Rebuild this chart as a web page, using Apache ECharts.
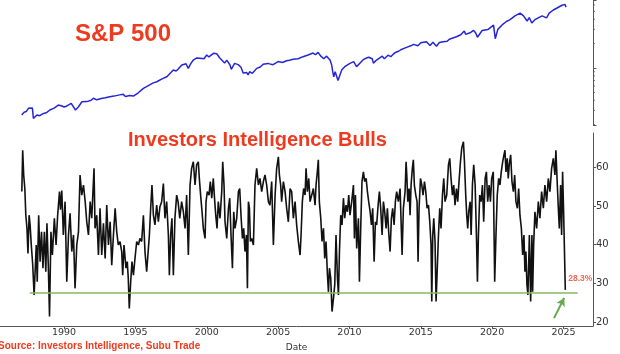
<!DOCTYPE html>
<html>
<head>
<meta charset="utf-8">
<script src="https://cdn.jsdelivr.net/npm/echarts@6/dist/echarts.min.js"></script>
<style>
html, body { margin: 0; padding: 0; background: #fff; }
#container { width: 620px; height: 354px; }
</style>
</head>
<body>
<div id="container"></div>
<script>
'use strict';
// S&P 500: [decimal year, index level]
var spx = [
  [1987.03, 263], [1987.2, 285], [1987.35, 290], [1987.5, 318], [1987.6, 333], [1987.78, 320], [1987.85, 239],
  [1987.95, 250], [1988.1, 263], [1988.3, 258], [1988.5, 272], [1988.75, 280], [1989.0, 303], [1989.3, 320],
  [1989.6, 349], [1989.85, 340], [1990.0, 330], [1990.2, 340], [1990.5, 366], [1990.8, 303], [1991.0, 330],
  [1991.25, 383], [1991.6, 385], [1991.9, 400], [1992.05, 423], [1992.3, 405], [1992.6, 420], [1992.9, 430],
  [1993.2, 442], [1993.5, 450], [1993.9, 466], [1994.15, 473], [1994.3, 445], [1994.6, 458], [1994.86, 451],
  [1995.2, 495], [1995.56, 561], [1996.0, 620], [1996.25, 655], [1996.5, 677], [1996.6, 640], [1996.9, 740],
  [1997.2, 781], [1997.3, 740], [1997.66, 944], [1997.85, 920], [1998.0, 970], [1998.25, 1089],
  [1998.55, 1130], [1998.7, 990], [1998.9, 1150], [1999.06, 1255], [1999.3, 1330], [1999.53, 1318],
  [1999.8, 1300], [2000.0, 1447], [2000.15, 1370], [2000.25, 1440], [2000.47, 1518], [2000.55, 1460],
  [2000.7, 1500], [2000.9, 1340], [2001.05, 1255], [2001.25, 1150], [2001.4, 1250], [2001.63, 1089],
  [2001.72, 965], [2001.95, 1140], [2002.2, 1100], [2002.4, 1020], [2002.55, 870], [2002.68, 860],
  [2002.8, 880], [2002.9, 820], [2003.0, 900], [2003.2, 860], [2003.5, 990], [2003.75, 1030],
  [2003.95, 1111], [2004.3, 1140], [2004.5, 1110], [2004.65, 1100], [2005.0, 1200], [2005.3, 1170],
  [2005.35, 1180], [2005.6, 1230], [2005.8, 1250], [2006.05, 1280], [2006.4, 1300], [2006.5, 1250],
  [2006.75, 1380], [2007.1, 1447], [2007.2, 1400], [2007.45, 1530], [2007.62, 1460], [2007.8, 1560],
  [2008.0, 1400], [2008.2, 1300], [2008.4, 1400], [2008.64, 1255], [2008.75, 1100], [2008.83, 900],
  [2008.9, 780], [2009.0, 900], [2009.2, 700], [2009.46, 944], [2009.7, 1050], [2010.04, 1143],
  [2010.3, 1200], [2010.5, 1040], [2010.8, 1180], [2011.0, 1280], [2011.2, 1330], [2011.35, 1360],
  [2011.6, 1300], [2011.68, 1150], [2011.9, 1255], [2012.3, 1400], [2012.45, 1300], [2012.7, 1440],
  [2012.9, 1380], [2013.1, 1500], [2013.3, 1580], [2013.45, 1610], [2013.6, 1680], [2014.0, 1800],
  [2014.1, 1740], [2014.3, 1880], [2014.5, 1960], [2014.8, 1880], [2015.0, 2050], [2015.4, 2114],
  [2015.65, 1900], [2015.85, 2080], [2016.1, 1860], [2016.3, 2060], [2016.58, 2114], [2016.85, 2140],
  [2017.0, 2270], [2017.5, 2430], [2017.8, 2570], [2018.05, 2860], [2018.15, 2600], [2018.45, 2720],
  [2018.7, 2910], [2018.85, 2700], [2018.97, 2400], [2019.3, 2900], [2019.4, 2770], [2019.7, 2980],
  [2020.1, 3380], [2020.22, 2300], [2020.4, 3000], [2020.7, 3400], [2021.0, 3750], [2021.26, 3950],
  [2021.6, 4400], [2021.96, 4750], [2022.2, 4400], [2022.45, 3800], [2022.6, 4200], [2022.78, 3600],
  [2023.0, 3950], [2023.5, 4400], [2023.82, 4150], [2024.0, 4750], [2024.29, 5200], [2024.35, 5000],
  [2024.55, 5500], [2024.6, 5200], [2024.9, 5950], [2025.1, 6100], [2025.18, 5650]
];

// Investors Intelligence bulls: [decimal year, % bulls]
var bulls = [
  [1987.04,53.7],[1987.10,64.4],[1987.17,58.0],[1987.25,54.5],[1987.32,47.6],[1987.40,44.2],[1987.47,37.7],
  [1987.55,47.6],[1987.62,45.1],[1987.70,40.0],[1987.80,35.0],[1987.90,27.0],[1987.97,33.0],[1988.05,39.9],
  [1988.12,30.4],[1988.22,47.6],[1988.32,35.6],[1988.42,43.3],[1988.52,33.9],[1988.62,43.3],[1988.72,33.0],
  [1988.80,45.5],[1988.90,34.0],[1988.98,21.4],[1989.08,43.3],[1989.18,37.3],[1989.32,46.8],[1989.44,39.9],
  [1989.55,47.6],[1989.68,53.7],[1989.75,49.0],[1989.84,54.0],[1989.95,42.5],[1990.07,51.1],[1990.19,30.4],
  [1990.31,42.5],[1990.42,48.1],[1990.54,38.2],[1990.66,42.5],[1990.77,28.7],[1990.89,39.9],[1991.01,43.3],
  [1991.12,58.0],[1991.24,52.8],[1991.36,55.4],[1991.48,51.1],[1991.59,45.9],[1991.71,42.5],[1991.83,51.1],
  [1991.94,46.8],[1992.10,59.7],[1992.17,44.2],[1992.29,47.6],[1992.41,37.3],[1992.52,49.4],[1992.64,37.3],
  [1992.76,45.5],[1992.88,36.4],[1992.99,50.2],[1993.11,39.9],[1993.23,45.9],[1993.34,34.7],[1993.46,42.5],
  [1993.58,49.4],[1993.69,43.3],[1993.80,39.9],[1993.92,40.8],[1994.04,38.2],[1994.11,32.1],[1994.20,39.9],
  [1994.34,33.9],[1994.43,35.6],[1994.50,31.3],[1994.57,23.5],[1994.67,30.4],[1994.76,35.6],[1994.86,32.1],
  [1994.97,36.4],[1995.09,40.8],[1995.21,39.9],[1995.32,41.6],[1995.44,40.8],[1995.56,47.6],[1995.67,38.2],
  [1995.79,33.0],[1995.98,42.5],[1996.07,49.4],[1996.16,55.4],[1996.26,47.6],[1996.37,45.1],[1996.49,50.2],
  [1996.61,45.9],[1996.72,49.8],[1996.84,51.1],[1996.96,55.8],[1997.07,46.8],[1997.19,51.1],[1997.31,42.5],
  [1997.38,32.1],[1997.47,42.5],[1997.56,46.8],[1997.66,32.1],[1997.77,46.8],[1997.89,52.8],[1997.99,51.1],
  [1998.11,46.8],[1998.24,51.1],[1998.36,48.5],[1998.48,44.2],[1998.59,52.8],[1998.71,37.3],[1998.83,55.4],
  [1998.94,59.7],[1999.06,61.4],[1999.18,55.4],[1999.29,60.6],[1999.41,61.4],[1999.48,57.1],[1999.57,52.8],
  [1999.67,48.5],[1999.76,44.2],[1999.88,41.6],[1999.95,51.1],[2000.04,53.7],[2000.16,52.8],[2000.25,56.3],
  [2000.35,52.0],[2000.46,57.1],[2000.53,52.8],[2000.63,47.6],[2000.72,44.2],[2000.81,51.1],[2000.93,46.8],
  [2001.05,53.7],[2001.12,61.4],[2001.21,55.4],[2001.28,45.9],[2001.40,41.6],[2001.52,49.4],[2001.61,52.0],
  [2001.70,42.5],[2001.80,33.9],[2001.89,48.5],[2001.98,44.2],[2002.10,46.8],[2002.22,53.7],[2002.31,54.5],
  [2002.40,47.6],[2002.50,41.6],[2002.59,44.2],[2002.68,38.2],[2002.78,42.5],[2002.85,28.7],[2002.92,51.1],
  [2002.99,49.4],[2003.06,40.8],[2003.15,41.6],[2003.27,39.9],[2003.38,55.4],[2003.50,59.7],[2003.62,55.4],
  [2003.73,57.1],[2003.85,53.7],[2003.97,56.3],[2004.08,58.0],[2004.20,55.4],[2004.32,51.1],[2004.43,50.2],
  [2004.55,56.3],[2004.67,39.9],[2004.79,52.8],[2004.90,59.7],[2005.02,62.7],[2005.09,58.0],[2005.18,55.4],
  [2005.25,51.1],[2005.37,56.3],[2005.49,53.7],[2005.60,49.4],[2005.72,45.9],[2005.84,54.5],[2005.95,53.7],
  [2006.07,46.8],[2006.19,51.1],[2006.30,45.1],[2006.42,40.8],[2006.54,37.3],[2006.61,42.5],[2006.70,51.1],
  [2006.79,54.5],[2006.89,52.8],[2006.96,59.7],[2007.05,53.7],[2007.15,57.1],[2007.24,51.1],[2007.36,52.8],
  [2007.47,54.5],[2007.59,50.2],[2007.66,55.4],[2007.75,58.8],[2007.82,61.9],[2007.89,51.1],[2007.99,46.8],
  [2008.08,40.8],[2008.18,44.2],[2008.27,36.4],[2008.36,40.8],[2008.46,32.1],[2008.53,27.8],[2008.60,33.9],
  [2008.69,31.3],[2008.78,22.7],[2008.88,26.1],[2008.97,29.6],[2009.06,42.5],[2009.16,31.3],[2009.23,27.0],
  [2009.30,38.2],[2009.39,47.6],[2009.48,45.1],[2009.58,52.0],[2009.67,46.8],[2009.76,50.2],[2009.86,48.5],
  [2009.95,52.8],[2010.04,47.6],[2010.16,51.1],[2010.28,55.4],[2010.35,41.6],[2010.42,52.8],[2010.51,39.0],
  [2010.63,46.8],[2010.70,30.4],[2010.79,44.2],[2010.88,56.3],[2010.98,58.8],[2011.07,56.3],[2011.17,57.1],
  [2011.26,53.7],[2011.35,51.1],[2011.45,48.5],[2011.54,45.1],[2011.63,49.4],[2011.73,35.6],[2011.82,45.9],
  [2011.91,45.1],[2012.01,50.2],[2012.10,53.7],[2012.19,49.4],[2012.29,42.5],[2012.38,51.1],[2012.47,48.5],
  [2012.57,44.2],[2012.66,49.4],[2012.75,43.3],[2012.85,38.2],[2012.94,46.8],[2013.03,49.4],[2013.13,45.1],
  [2013.22,51.1],[2013.31,53.7],[2013.43,51.1],[2013.55,54.5],[2013.62,45.9],[2013.69,37.3],[2013.78,49.4],
  [2013.90,53.7],[2013.97,61.4],[2014.02,58.0],[2014.09,51.1],[2014.18,54.5],[2014.25,47.6],[2014.32,55.4],
  [2014.41,59.7],[2014.48,61.9],[2014.55,55.4],[2014.65,52.8],[2014.74,51.1],[2014.81,35.6],[2014.88,49.4],
  [2014.98,57.1],[2015.07,55.4],[2015.16,52.8],[2015.26,56.3],[2015.35,53.7],[2015.44,49.4],[2015.54,50.2],
  [2015.63,45.9],[2015.72,39.9],[2015.77,25.3],[2015.84,42.5],[2015.91,46.8],[2016.00,40.8],[2016.07,25.3],
  [2016.14,32.1],[2016.24,42.5],[2016.33,49.4],[2016.42,44.2],[2016.52,52.8],[2016.61,57.1],[2016.70,51.1],
  [2016.82,52.8],[2016.94,60.6],[2017.03,62.3],[2017.12,57.1],[2017.22,52.8],[2017.31,55.4],[2017.40,50.2],
  [2017.50,54.5],[2017.59,51.1],[2017.68,56.3],[2017.78,61.4],[2017.87,64.9],[2017.99,66.6],[2018.06,61.4],
  [2018.15,52.8],[2018.22,47.6],[2018.29,44.2],[2018.36,48.5],[2018.46,51.1],[2018.53,42.5],[2018.62,55.4],
  [2018.71,60.6],[2018.81,55.4],[2018.90,42.5],[2018.97,30.4],[2019.04,42.5],[2019.13,52.8],[2019.23,51.1],
  [2019.32,55.4],[2019.41,45.9],[2019.51,57.1],[2019.60,58.8],[2019.69,51.1],[2019.79,55.4],[2019.88,51.1],
  [2019.97,57.1],[2020.08,58.8],[2020.18,30.4],[2020.27,42.5],[2020.36,52.8],[2020.46,57.1],[2020.55,55.4],
  [2020.64,58.8],[2020.74,61.4],[2020.83,63.2],[2020.90,64.4],[2020.97,58.8],[2021.06,62.3],[2021.13,57.1],
  [2021.20,60.6],[2021.30,63.2],[2021.39,56.3],[2021.49,53.7],[2021.58,58.0],[2021.67,51.1],[2021.77,49.4],
  [2021.86,54.5],[2021.95,47.6],[2022.05,44.2],[2022.14,37.3],[2022.23,42.5],[2022.30,33.0],[2022.37,38.2],
  [2022.44,29.6],[2022.51,27.0],[2022.61,42.5],[2022.70,25.3],[2022.79,42.5],[2022.84,27.8],[2022.91,39.9],
  [2023.00,48.5],[2023.12,44.2],[2023.24,51.1],[2023.35,46.8],[2023.47,53.7],[2023.59,49.4],[2023.70,55.4],
  [2023.82,51.1],[2023.94,57.1],[2024.05,53.7],[2024.17,59.7],[2024.29,62.3],[2024.40,58.0],[2024.47,64.4],
  [2024.55,57.1],[2024.64,49.4],[2024.71,44.2],[2024.80,55.4],[2024.87,42.5],[2024.94,58.8],[2025.01,48.5],
  [2025.08,49.0],[2025.13,28.3]
];

var floorLevel = 27.5;
var floorSpan = [1987.6, 2026.0];
var yearTicks = [1990, 1995, 2000, 2005, 2010, 2015, 2020, 2025];
var bullTicks = [20, 30, 40, 50, 60];
var spxMinorTicks = [200, 300, 400, 500, 600, 700, 800, 900, 2000, 3000, 4000, 5000, 6000];
var arrowFrom = [2024.34, 21.0];
var arrowTo = [2025.05, 26.2];

var xMin = 1985.51, xMax = 2027.07;
var red = '#ee3b1f';
var axisGrey = '#555';
var latest = bulls[bulls.length - 1];

var myChart = echarts.init(document.getElementById('container'), null, { renderer: 'canvas' });

myChart.setOption({
    animation: false,
    backgroundColor: '#fff',
    textStyle: { fontFamily: 'DejaVu Sans' },
    grid: [
        { left: 0, right: 27, top: 0, height: 125, outerBoundsMode: 'none' },
        { left: 0, right: 27, top: 133, height: 193, outerBoundsMode: 'none' }
    ],
    xAxis: [
        { gridIndex: 0, type: 'value', min: xMin, max: xMax, show: false },
        {
            gridIndex: 1, type: 'value', min: xMin, max: xMax,
            axisLine: { onZero: false, lineStyle: { color: axisGrey, width: 1 } },
            axisTick: { customValues: yearTicks, length: 3, lineStyle: { color: axisGrey } },
            axisLabel: {
                customValues: yearTicks, margin: 2, fontSize: 9.5, color: '#333',
                formatter: function (v) { return String(Math.round(v)); }
            },
            splitLine: { show: false },
            name: 'Date', nameLocation: 'middle', nameGap: 15,
            nameTextStyle: { fontSize: 9, color: '#333' }
        }
    ],
    yAxis: [
        {
            gridIndex: 0, type: 'log', logBase: 10, min: 198, max: 6910, position: 'right',
            axisLine: { show: true, onZero: false, lineStyle: { color: axisGrey, width: 1 } },
            axisTick: { show: true, length: 3.5, lineStyle: { color: axisGrey } },
            axisLabel: { show: false },
            splitLine: { show: false }
        },
        {
            gridIndex: 1, type: 'value', min: 18.97, max: 68.84, position: 'right',
            axisLine: { show: true, onZero: false, lineStyle: { color: axisGrey, width: 1 } },
            axisTick: { show: true, customValues: bullTicks, length: 3, lineStyle: { color: axisGrey } },
            axisLabel: { customValues: bullTicks, margin: 3, fontSize: 10, color: '#333' },
            splitLine: { show: false }
        }
    ],
    graphic: [
        {
            type: 'text', x: 75, y: 34,
            style: { text: 'S&P 500', font: 'bold 24px "Liberation Sans", Arial, sans-serif', fill: red, verticalAlign: 'middle' }
        },
        {
            type: 'text', x: 128, y: 140,
            style: { text: 'Investors Intelligence Bulls', font: 'bold 20px "Liberation Sans", Arial, sans-serif', fill: red, verticalAlign: 'middle' }
        },
        {
            type: 'text', x: -2, y: 346,
            style: { text: 'Source: Investors Intelligence, Subu Trade', font: 'bold 10px "Liberation Sans", Arial, sans-serif', fill: red, verticalAlign: 'middle' }
        }
    ],
    series: [
        {
            name: 'S&P 500', type: 'line', xAxisIndex: 0, yAxisIndex: 0,
            data: spx, showSymbol: false, silent: true,
            lineStyle: { color: '#2626d9', width: 1.5 }
        },
        {
            // minor log ticks on the right of the S&P panel
            type: 'custom', xAxisIndex: 0, yAxisIndex: 0, silent: true, clip: false,
            data: spxMinorTicks.map(function (v) { return [xMax, v]; }),
            renderItem: function (params, api) {
                var p = api.coord([api.value(0), api.value(1)]);
                return {
                    type: 'line',
                    shape: { x1: p[0], y1: p[1], x2: p[0] + 2, y2: p[1] },
                    style: { stroke: axisGrey, lineWidth: 0.8 }
                };
            }
        },
        {
            name: 'Bulls', type: 'line', xAxisIndex: 1, yAxisIndex: 1,
            data: bulls, showSymbol: false, silent: true,
            lineStyle: { color: '#111', width: 1.6 }
        },
        {
            name: 'Floor', type: 'line', xAxisIndex: 1, yAxisIndex: 1,
            data: [[floorSpan[0], floorLevel], [floorSpan[1], floorLevel]],
            showSymbol: false, silent: true,
            lineStyle: { color: '#86b85c', width: 1.3 }
        },
        {
            name: 'Latest', type: 'scatter', xAxisIndex: 1, yAxisIndex: 1,
            data: [latest], symbolSize: 1, silent: true,
            itemStyle: { color: 'rgba(0,0,0,0)' },
            label: {
                show: true, position: 'inside', offset: [15, -11],
                formatter: function (p) { return p.value[1].toFixed(1) + '%'; },
                color: '#e8442a', fontWeight: 'bold', fontSize: 8.5,
                fontFamily: '"Liberation Sans", Arial, sans-serif'
            },
            markLine: {
                silent: true, symbol: ['none', 'arrow'], symbolSize: [7, 8],
                label: { show: false },
                lineStyle: { color: '#6aa84f', width: 2, type: 'solid' },
                data: [[{ coord: arrowFrom }, { coord: arrowTo }]]
            }
        }
    ]
});
</script>
</body>
</html>
